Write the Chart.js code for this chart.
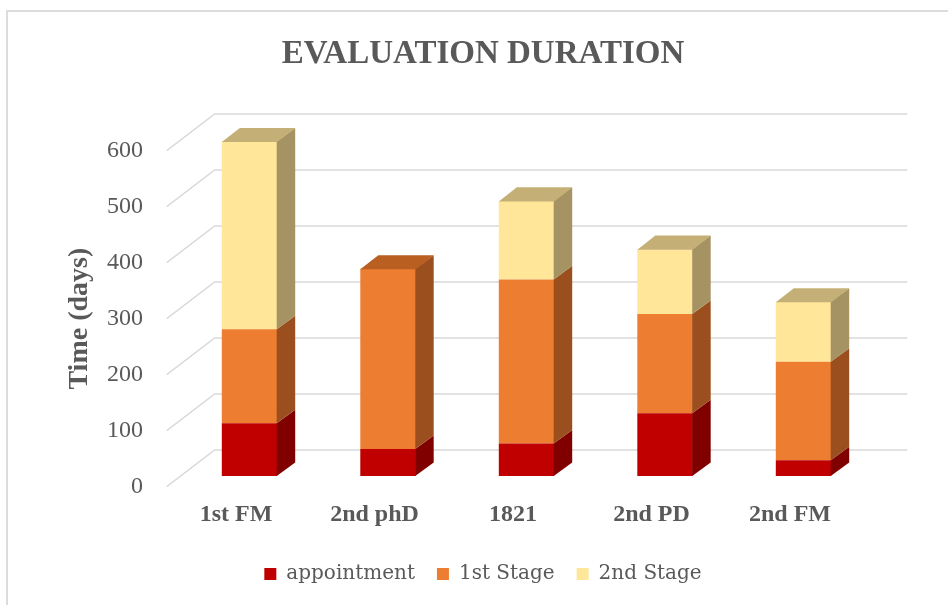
<!DOCTYPE html>
<html>
<head>
<meta charset="utf-8">
<script src="https://cdn.jsdelivr.net/npm/chart.js@4.4.1/dist/chart.umd.min.js"></script>
<style>
  html, body { margin: 0; padding: 0; background: #ffffff; }
  #wrap { position: relative; width: 948px; height: 605px; overflow: hidden; }
  #c { position: absolute; left: 0; top: 0; }
  #frame { position: absolute; left: 6px; top: 10px; width: 960px; height: 620px;
           border-left: 2px solid #dcdcdc; border-top: 2px solid #dcdcdc; pointer-events: none; }
</style>
</head>
<body>
<div id="wrap">
  <canvas id="c" width="948" height="605"></canvas>
  <div id="frame"></div>
</div>
<script>
// ---- data ----
const categories = ['1st FM', '2nd phD', '1821', '2nd PD', '2nd FM'];
const appointment = [94, 48, 58, 112, 28];
const stage1 = [168, 322, 293, 177, 176];
const stage2 = [335, 0, 140, 116, 107];
const seriesNames = ['appointment', '1st Stage', '2nd Stage'];
const yTicksMax = 600;
const yTickStep = 100;

const frontColors = ['#C00000', '#ED7D31', '#FFE699'];
const sideColors = ['#800000', '#9C4F1E', '#A69363'];
const topColors = ['#A00000', '#B95F22', '#C4B077'];

const depth3d = {
  id: 'depth3d',
  beforeDatasetsDraw(chart, args, opts) {
    const { ctx, chartArea: a, scales: { y } } = chart;
    ctx.save();
    ctx.strokeStyle = opts.gridColor;
    ctx.lineWidth = opts.gridWidth;
    y.ticks.forEach(t => {
      const py = y.getPixelForValue(t.value);
      ctx.beginPath();
      ctx.moveTo(a.left, py);
      ctx.lineTo(a.left + opts.floor[0], py + opts.floor[1]);
      ctx.lineTo(a.right + opts.floor[0], py + opts.floor[1]);
      ctx.stroke();
    });
    ctx.restore();
    ctx.save();
    ctx.translate(opts.front[0], opts.front[1]);
  },
  afterDatasetsDraw(chart, args, opts) {
    const { ctx } = chart;
    const [bx, by] = opts.bar;
    const metas = chart.getSortedVisibleDatasetMetas();
    const n = chart.data.labels.length;
    for (let i = 0; i < n; i++) {
      let top = null;
      metas.forEach(meta => {
        const v = chart.data.datasets[meta.index].data[i];
        if (!v) return;
        const el = meta.data[i];
        const p = el.getProps(['x', 'y', 'base', 'width'], true);
        const r = p.x + p.width / 2;
        ctx.fillStyle = sideColors[meta.index];
        ctx.beginPath();
        ctx.moveTo(r - 0.5, p.y);
        ctx.lineTo(r + bx, p.y + by);
        ctx.lineTo(r + bx, p.base + by);
        ctx.lineTo(r - 0.5, p.base);
        ctx.closePath();
        ctx.fill();
        top = { p, idx: meta.index };
      });
      if (top) {
        const { p, idx } = top;
        const l = p.x - p.width / 2, r = p.x + p.width / 2;
        ctx.fillStyle = topColors[idx];
        ctx.beginPath();
        ctx.moveTo(l, p.y + 0.5);
        ctx.lineTo(l + bx, p.y + by);
        ctx.lineTo(r + bx, p.y + by);
        ctx.lineTo(r, p.y + 0.5);
        ctx.closePath();
        ctx.fill();
      }
    }
    ctx.restore();
  }
};

Chart.defaults.font.family = "'Liberation Serif', serif";
Chart.defaults.color = '#595959';

const values = [appointment, stage1, stage2];

new Chart(document.getElementById('c'), {
  type: 'bar',
  data: {
    labels: categories,
    datasets: values.map((d, i) => ({
      label: seriesNames[i],
      data: d,
      backgroundColor: frontColors[i],
      borderWidth: 0,
      barPercentage: 0.4,
      categoryPercentage: 1.0,
      clip: false
    }))
  },
  options: {
    responsive: false,
    animation: false,
    events: [],
    layout: { padding: { left: 18, right: 0, top: 0, bottom: 11 } },
    plugins: {
      title: {
        display: true,
        text: 'EVALUATION DURATION',
        color: '#595959',
        font: { family: "'Liberation Serif', serif", size: 33, weight: 'bold' },
        padding: { top: 35, bottom: 76 }
      },
      legend: {
        position: 'bottom',
        labels: {
          font: { family: "'DejaVu Serif', serif", size: 20 },
          color: '#595959',
          boxWidth: 12,
          boxHeight: 12,
          padding: 22
        }
      },
      tooltip: { enabled: false },
      depth3d: {
        gridColor: '#d9d9d9',
        gridWidth: 1.5,
        floor: [48, -36.7],
        front: [13.5, -10.7],
        bar: [18, -13.6]
      }
    },
    scales: {
      x: {
        stacked: true,
        grid: { display: false, drawTicks: false },
        border: { display: false },
        ticks: {
          padding: 14,
          color: '#595959',
          font: { family: "'Liberation Serif', serif", size: 24, weight: 'bold' }
        },
        afterFit(s) { s.height = 55.3; }
      },
      y: {
        stacked: true,
        min: 0,
        max: yTicksMax,
        grid: { display: false, drawTicks: false },
        border: { display: false },
        ticks: {
          stepSize: yTickStep,
          padding: 23.75,
          color: '#595959',
          font: { family: "'Liberation Serif', serif", size: 24 }
        },
        title: {
          display: true,
          text: 'Time (days)',
          color: '#595959',
          font: { family: "'Liberation Serif', serif", size: 28, weight: 'bold' },
          padding: { top: 45, bottom: 0 }
        },
        afterFit(s) { s.width = 148.75; }
      },
      y2: {
        position: 'right',
        display: true,
        grid: { display: false, drawTicks: false },
        border: { display: false },
        ticks: { display: false },
        afterFit(s) { s.width = 88.75; }
      }
    }
  },
  plugins: [depth3d]
});
</script>
</body>
</html>
